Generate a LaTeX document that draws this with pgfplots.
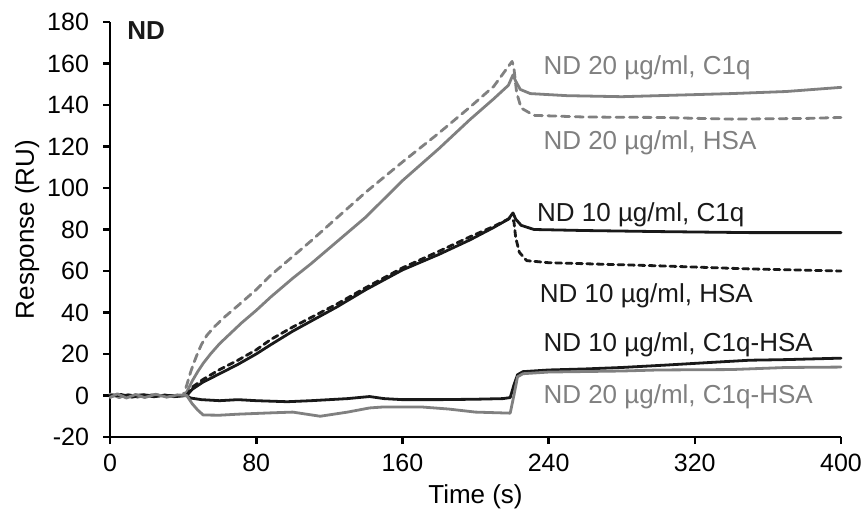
\documentclass[border=0pt]{standalone}
\usepackage{pgfplots}
\pgfplotsset{compat=1.18}
\usepackage{fontspec}
\setmainfont{Liberation Sans}
\definecolor{gr}{RGB}{128,128,128}
\definecolor{bk}{RGB}{25,25,25}
\newcommand\lbl{\fontsize{13bp}{15bp}\selectfont}
\newcommand\tck{\fontsize{12.5bp}{15bp}\selectfont}
\begin{document}
\begin{tikzpicture}
\begin{axis}[
  scale only axis, width=365.5bp, height=207.5bp,
  xmin=0, xmax=400, ymin=-20, ymax=180,
  axis x line*=bottom, axis y line*=left,
  xtick={0,80,160,240,320,400}, ytick={-20,0,20,40,60,80,100,120,140,160,180},
  tick align=outside, major tick length=3.5bp,
  axis line style={line width=1.3bp, black},
  tick style={line width=1.3bp, black},
  /pgf/number format/assume math mode=true,
  tick label style={font=\tck, text=black},
  yticklabel style={xshift=-3.5bp},
  xticklabel style={yshift=-1.5bp},
  xlabel={Time (s)}, ylabel={Response (RU)},
  label style={font=\lbl},
  xlabel style={at={(axis description cs:0.5,-0.1446)}, anchor=center},
  ylabel style={at={(axis description cs:-0.1135,0.5)}, anchor=center},
  clip=false,
  every axis plot/.append style={line width=1.4bp, line join=round, line cap=round},
]
% ND 20 HSA (gray dashed)
\addplot[gr, dash pattern=on 4bp off 2.8bp] coordinates {
(0,0.5) (10,0) (20,0.5) (30,0) (40,0) (42,5) (44,11) (46,16) (48,20.5) (50,24.5) (53,29) (57,33) (62,37.3) (70,43.3) (80,51) (88,58) (100,67) (110,74.5) (124,85.5) (140,98) (160,112.5) (180,126.5) (197,139) (210,149) (220,161) (221,158) (222.5,146) (225,138.5) (232,135) (260,134.2) (300,134) (340,133.2) (380,133.5) (400,134)};
% ND 20 C1q (gray solid)
\addplot[gr] coordinates {
(0,0.8) (5,-1) (10,0.5) (15,-0.8) (20,0.3) (25,-0.5) (30,0.2) (35,-0.6) (41,0) (43,3.5) (45,7) (48,11.5) (51,15.5) (55,20) (60,25) (66,30) (72,35) (80,41) (88,47.5) (100,56.5) (110,63.5) (124,74) (140,86) (160,103.5) (180,119) (197,133) (210,143) (218,149.5) (220.5,154.5) (222,151.5) (224.5,147.5) (230,145.5) (250,144.5) (280,144) (300,144.5) (340,145.5) (370,146.5) (400,148.5)};
% ND 10 C1q (black solid)
\addplot[bk] coordinates {
(0,0) (42,0) (45,3) (51,6.5) (60,10.5) (70,15) (80,20) (88,24.5) (100,31) (124,42.6) (140,51) (160,60.5) (180,68) (197,75) (210,81) (218,85) (220.5,88) (222,85) (225,82) (232,80) (260,79.5) (300,79) (350,78.5) (400,78.5)};
% ND 10 HSA (black dashed)
\addplot[bk, dash pattern=on 3bp off 2.2bp] coordinates {
(42,0) (45,4) (51,7.8) (60,12.5) (70,17) (80,22) (88,27) (100,33) (124,44) (140,52) (160,61.5) (180,69.5) (197,76.5) (210,81.5) (219,85.5) (221,84) (222,76) (224,69) (228,65) (240,64) (260,63.5) (300,62.5) (350,61) (400,60)};
% ND 10 C1q-HSA (black solid)
\addplot[bk] coordinates {
(0,-0.5) (6,0.5) (12,-0.8) (18,0.3) (24,-0.6) (30,0.2) (36,-0.5) (42,0) (44,-1.2) (50,-2) (60,-2.5) (70,-2) (80,-2.5) (97,-3) (110,-2.5) (120,-2) (130,-1.5) (142,-0.5) (150,-1.5) (160,-2) (180,-2) (200,-1.8) (215,-1.5) (219,-1) (221,5) (223,10) (226,11.5) (240,12.3) (260,12.8) (280,13.5) (305,14.7) (330,16) (350,17) (370,17.3) (400,18)};
% ND 20 C1q-HSA (gray solid)
\addplot[gr] coordinates {
(0,-1) (4,0.8) (9,-1.2) (14,0.5) (19,-1) (25,0.6) (31,-0.8) (37,0.3) (42,0) (45,-4) (48,-7) (51,-9.4) (60,-9.5) (70,-9) (87,-8.4) (100,-8) (115,-10) (130,-8) (142,-6) (150,-5.5) (170,-5.5) (185,-6.5) (200,-8) (215,-8.4) (219,-8.5) (221,0) (223,9) (226,10.5) (240,11.3) (280,11.8) (300,12.3) (340,12.5) (370,13.5) (400,13.7)};
\node[anchor=west, inner sep=0, font=\lbl\bfseries, text=bk] at (axis cs:9.3,176) {ND};
\node[anchor=west, inner sep=0, font=\lbl, text=gr] at (axis cs:237,157.8) {ND 20 µg/ml, C1q};
\node[anchor=west, inner sep=0, font=\lbl, text=gr] at (axis cs:237,122) {ND 20 µg/ml, HSA};
\node[anchor=west, inner sep=0, font=\lbl, text=bk] at (axis cs:233.5,87) {ND 10 µg/ml, C1q};
\node[anchor=west, inner sep=0, font=\lbl, text=bk] at (axis cs:235,48) {ND 10 µg/ml, HSA};
\node[anchor=west, inner sep=0, font=\lbl, text=bk] at (axis cs:237,24.3) {ND 10 µg/ml, C1q-HSA};
\node[anchor=west, inner sep=0, font=\lbl, text=gr] at (axis cs:237,-0.7) {ND 20 µg/ml, C1q-HSA};
\end{axis}
\pgfresetboundingbox
\useasboundingbox (-55bp,-39bp) rectangle (379bp,218.5bp);
\end{tikzpicture}
\end{document}
